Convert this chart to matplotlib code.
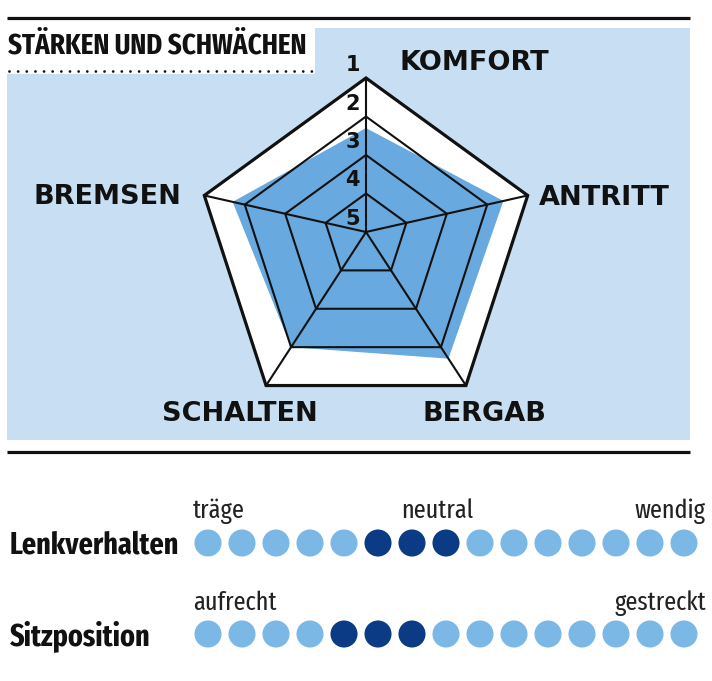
import numpy as np
import matplotlib.pyplot as plt
from matplotlib.patches import Polygon, Rectangle

# radar data (school grades, 1 = best, drawn at the outer ring)
categories = ['KOMFORT', 'ANTRITT', 'BERGAB', 'SCHALTEN', 'BREMSEN']
ratings = [2.3, 1.6, 1.7, 2.0, 1.7]
grades = [1, 2, 3, 4, 5]

# dot scales
n_dots = 15
lenk_words = ['träge', 'neutral', 'wendig']
lenk_marked = [5, 6, 7]
sitz_words = ['aufrecht', 'gestreckt']
sitz_marked = [4, 5, 6]

PANEL = '#c8def3'
FILL = '#68a9e0'
DOT_LIGHT = '#7cb8e6'
DOT_DARK = '#0b3b85'
INK = '#111111'
narrow = ['Fira Sans Extra Condensed', 'DejaVu Sans']

W, H = 712, 681
fig = plt.figure(figsize=(W / 100, H / 100), dpi=100)
ax = fig.add_axes([0, 0, 1, 1])
ax.set_xlim(0, W)
ax.set_ylim(H, 0)
ax.axis('off')

# frame: rules, panel, title box
ax.plot([7, 690], [18, 18], color=INK, lw=2.3, solid_capstyle='butt')
ax.plot([7, 690], [452, 452], color=INK, lw=2.3, solid_capstyle='butt')
ax.add_patch(Rectangle((7, 28), 683, 412, color=PANEL, lw=0, zorder=0))
ax.add_patch(Rectangle((7, 28), 308, 46, color='white', lw=0, zorder=0))
ax.plot([9, 312], [71, 71], color=INK, lw=2, linestyle=(0, (0.01, 3.1)),
        dash_capstyle='round')
ax.text(8, 54, 'STÄRKEN UND SCHWÄCHEN', family=narrow, fontstretch='condensed',
        weight='bold', fontsize=21, color=INK, ha='left', va='baseline')

# radar geometry: regular outer pentagon, spokes meet a little higher up
cx, cy, R = 366, 248, 170
hub = np.array([366.0, 232.0])
ang = np.deg2rad(90 - 72 * np.arange(len(categories)))
outer = np.column_stack([cx + R * np.cos(ang), cy - R * np.sin(ang)])


def to_frac(g):
    return (5 - np.asarray(g, dtype=float)) / 4


def ring(f):
    f = np.atleast_1d(f)[:, None]
    return hub + f * (outer - hub)


ax.add_patch(Polygon(outer, closed=True, facecolor='white', edgecolor='none', zorder=1))
ax.add_patch(Polygon(ring(to_frac(ratings)), closed=True, facecolor=FILL,
                     edgecolor='none', zorder=2))
for g in grades[1:-1]:
    ax.add_patch(Polygon(ring(np.full(len(categories), to_frac(g))), closed=True,
                         fill=False, edgecolor=INK, lw=1.5, zorder=3))
for p in outer:
    ax.plot([hub[0], p[0]], [hub[1], p[1]], color=INK, lw=1.5, zorder=3)
ax.add_patch(Polygon(outer, closed=True, fill=False, edgecolor=INK, lw=2.3,
                     joinstyle='miter', zorder=4))

for g in grades:
    y = ring(np.full(len(categories), to_frac(g)))[0, 1]
    ax.text(360, y - 13, str(g), family='DejaVu Sans', fontsize=15, weight='bold',
            color=INK, ha='right', va='center', zorder=5)

label_pos = [(474, 63, 'center'), (539, 198, 'left'), (484, 414, 'center'),
             (240, 414, 'center'), (181, 197, 'right')]
for name, (x, y, ha) in zip(categories, label_pos):
    ax.text(x, y, name, family='DejaVu Sans', fontsize=19.5, weight='bold',
            color=INK, ha=ha, va='center')

# dot scales
dot_x = 208 + 34 * np.arange(n_dots)
rows = [('Lenkverhalten', 543, lenk_marked, 554),
        ('Sitzposition', 634, sitz_marked, 645)]
for name, y, marked, base in rows:
    colors = [DOT_DARK if i in marked else DOT_LIGHT for i in range(n_dots)]
    ax.scatter(dot_x, np.full(n_dots, y), s=380, c=colors, linewidths=0, zorder=3)
    ax.text(10, base, name, family=narrow, fontstretch='condensed', weight='bold',
            fontsize=22, color=INK, ha='left', va='baseline')

word_kw = dict(family=narrow, fontstretch='condensed', fontsize=19,
               color='#222222', va='baseline')
ax.text(193, 518, lenk_words[0], ha='left', **word_kw)
ax.text(437, 518, lenk_words[1], ha='center', **word_kw)
ax.text(706, 518, lenk_words[2], ha='right', **word_kw)
ax.text(193, 610, sitz_words[0], ha='left', **word_kw)
ax.text(706, 610, sitz_words[1], ha='right', **word_kw)

fig.savefig('out.png', dpi=100, facecolor='white')
